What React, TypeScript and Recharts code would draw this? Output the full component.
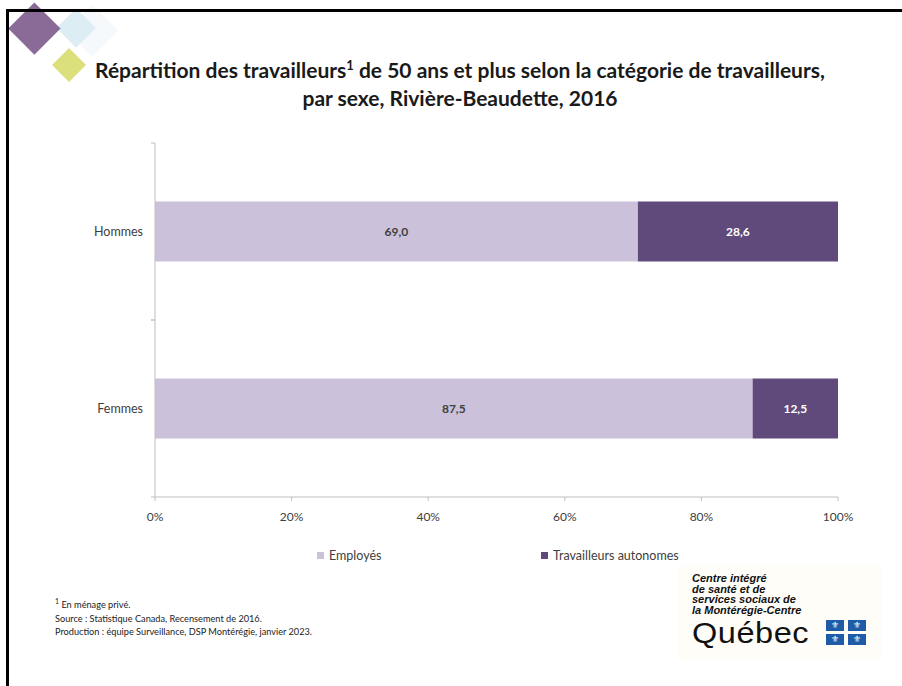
import React from "react";
import { BarChart, Bar, XAxis, YAxis, LabelList } from "recharts";

const CATEGORIES = ["Hommes", "Femmes"];
const EMPLOYES = [69.0, 87.5];
const AUTONOMES = [28.6, 12.5];
const X_TICKS = [0, 0.2, 0.4, 0.6, 0.8, 1];

const LIGHT = "#ccc1da";
const DARK = "#604a7b";
const AXIS = "#bfbfbf";
const TEXT = "#404040";
const FONT = "Lato, 'Open Sans', sans-serif";
const LOGO_FONT = "'Liberation Sans', Arial, sans-serif";

const data = CATEGORIES.map((c, i) => ({ cat: c, employes: EMPLOYES[i], autonomes: AUTONOMES[i] }));

const W = 902;
const H = 686;
const M = { top: 143, right: 64, left: 55, bottom: 159 };
const PLOT_H = H - M.top - M.bottom - 30;
const BAND = PLOT_H / CATEGORIES.length;

const fmt = (v: any) => Number(v).toFixed(1).replace(".", ",");

// category ticks sit between the bars, like Excel does
function YTick(props: any) {
  const { x, y, payload } = props;
  const ax = x + 12;
  return (
    <g>
      <line x1={ax - 4} x2={ax} y1={y - BAND / 2} y2={y - BAND / 2} stroke={AXIS} />
      <line x1={ax - 4} x2={ax} y1={y + BAND / 2} y2={y + BAND / 2} stroke={AXIS} />
      <text x={x} y={y} dy="0.35em" textAnchor="end" fill={TEXT} fontSize={12.5} fontFamily={FONT}>
        {payload.value}
      </text>
    </g>
  );
}

function Diamond({ cx, cy, r, color }: { cx: number; cy: number; r: number; color: string }) {
  return (
    <div
      style={{
        position: "absolute",
        left: cx - r / Math.SQRT2,
        top: cy - r / Math.SQRT2,
        width: r * Math.SQRT2,
        height: r * Math.SQRT2,
        background: color,
        transform: "rotate(45deg)",
      }}
    />
  );
}

export default function App() {
  return (
    <div style={{ position: "absolute", left: 0, top: 0, width: W, height: H, overflow: "hidden", background: "#fff", fontFamily: FONT }}>
      <Diamond cx={92} cy={30} r={26} color="#f6f9fb" />
      <Diamond cx={76} cy={28} r={20} color="#dcedf3" />
      <Diamond cx={34} cy={28} r={26} color="#8a6b97" />
      <Diamond cx={69} cy={65} r={17} color="#dbe07c" />
      <div style={{ position: "absolute", left: 6, top: 9, width: 1000, height: 1000, borderLeft: "3px solid #000", borderTop: "3px solid #000", boxSizing: "border-box" }} />

      <div style={{ position: "absolute", left: 0, top: 56, width: 920, textAlign: "center", fontSize: 21, fontWeight: 700, color: "#1a1a1a", lineHeight: "28px" }}>
        Répartition des travailleurs<sup style={{ fontSize: 13, lineHeight: 0 }}>1</sup> de 50 ans et plus selon la catégorie de travailleurs,
        <br />
        par sexe, Rivière-Beaudette, 2016
      </div>

      <div style={{ position: "absolute", left: 0, top: 0 }}>
        <BarChart width={W} height={H} data={data} layout="vertical" stackOffset="expand" barCategoryGap="33%" margin={M}>
          <XAxis
            type="number"
            domain={[0, 1]}
            ticks={X_TICKS}
            tickFormatter={(v) => `${Math.round(v * 100)}%`}
            stroke={AXIS}
            tickSize={4}
            tickMargin={11}
            tick={{ fill: TEXT, fontSize: 12, fontFamily: FONT }}
            interval={0}
          />
          <YAxis type="category" dataKey="cat" width={100} stroke={AXIS} tickLine={false} tickSize={0} tickMargin={12} tick={<YTick />} />
          <Bar dataKey="employes" stackId="a" fill={LIGHT} isAnimationActive={false}>
            <LabelList dataKey="employes" position="center" formatter={fmt} fill={TEXT} fontSize={12} fontWeight={700} fontFamily={FONT} />
          </Bar>
          <Bar dataKey="autonomes" stackId="a" fill={DARK} isAnimationActive={false}>
            <LabelList dataKey="autonomes" position="center" formatter={fmt} fill="#fff" fontSize={12} fontWeight={700} fontFamily={FONT} />
          </Bar>
        </BarChart>
      </div>

      <div style={{ position: "absolute", left: 317, top: 548, fontSize: 12.5, color: TEXT, display: "flex", alignItems: "center" }}>
        <span style={{ width: 7, height: 7, background: LIGHT, marginRight: 5 }} />
        Employés
      </div>
      <div style={{ position: "absolute", left: 541, top: 548, fontSize: 12.5, color: TEXT, display: "flex", alignItems: "center" }}>
        <span style={{ width: 7, height: 7, background: DARK, marginRight: 5 }} />
        Travailleurs autonomes
      </div>

      <div style={{ position: "absolute", left: 55, top: 598, fontSize: 9.2, color: "#222", lineHeight: "13.5px" }}>
        <div><sup style={{ fontSize: 7, lineHeight: 0 }}>1</sup> En ménage privé.</div>
        <div>Source : Statistique Canada, Recensement de 2016.</div>
        <div>Production : équipe Surveillance, DSP Montérégie, janvier 2023.</div>
      </div>

      <div style={{ position: "absolute", left: 678, top: 566, width: 204, height: 94, background: "#fffdf8" }} />
      <div style={{ position: "absolute", left: 692, top: 573, fontSize: 11, fontWeight: 700, fontStyle: "italic", color: "#111", lineHeight: "10.5px", fontFamily: LOGO_FONT }}>
        <div>Centre intégré</div>
        <div>de santé et de</div>
        <div>services sociaux de</div>
        <div>la Montérégie-Centre</div>
      </div>
      <div style={{ position: "absolute", left: 692, top: 621, fontSize: 29, color: "#111", lineHeight: "24px", fontFamily: LOGO_FONT, letterSpacing: 0.5, transform: "scaleX(1.12)", transformOrigin: "left" }}>
        Québec
      </div>
      <div style={{ position: "absolute", left: 826, top: 620, width: 42, height: 26, display: "grid", gridTemplateColumns: "18px 18px", gridTemplateRows: "11px 11px", columnGap: 4, rowGap: 3 }}>
        {[0, 1, 2, 3].map((i) => (
          <div key={i} style={{ background: "#1f5ca8", color: "#fff", fontSize: 9, lineHeight: "11px", textAlign: "center", fontFamily: "'DejaVu Sans'" }}>
            ⚜
          </div>
        ))}
      </div>
    </div>
  );
}
